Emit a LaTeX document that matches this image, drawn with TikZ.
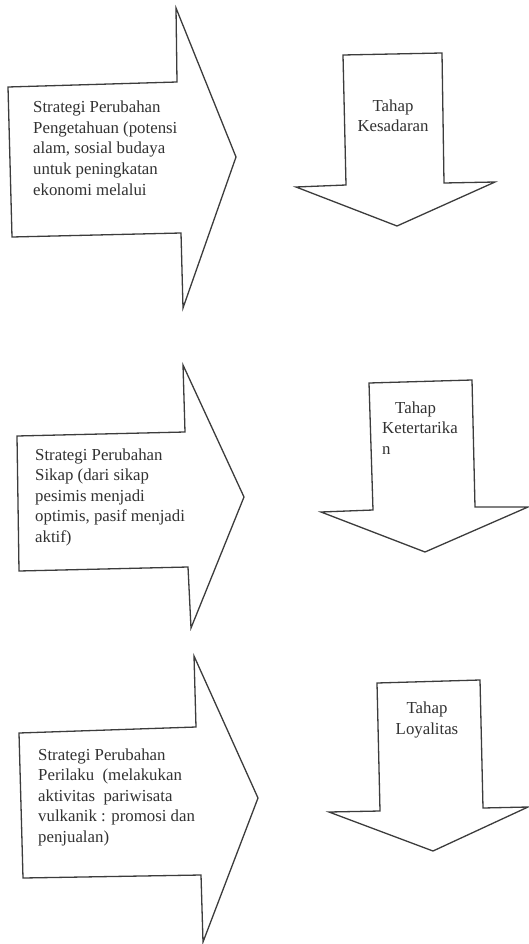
\documentclass[tikz,border=0pt]{standalone}
\usepackage{fontspec}
\setmainfont{Liberation Serif}
\usepackage{xcolor}
\usepackage{tikz}
\usetikzlibrary{positioning}
\definecolor{ink}{RGB}{60,60,60}
\definecolor{txt}{RGB}{50,50,50}

\tikzset{
    shapeline/.style={draw=ink, line width=1.3pt, line join=miter, fill=white},
    lefttext/.style={anchor=base west, align=left, inner sep=0pt, text=txt,
        font=\fontsize{16.8}{20.5}\selectfont},
    tahaptext/.style={anchor=base, align=center, inner sep=0pt, text=txt,
        font=\fontsize{16.8}{20.5}\selectfont}
}

\begin{document}
\begin{tikzpicture}[x=1pt, y=-1pt]
    \useasboundingbox (0,0) rectangle (529,944);

    % Right arrows (strategi)
    \draw[shapeline] (8,87) -- (177,82) -- (176,8) -- (236,157) -- (183,308) -- (181,233) -- (12,237) -- cycle;
    \draw[shapeline] (17,436) -- (185,432) -- (183,365) -- (244,497) -- (191,628) -- (188,567) -- (19,571) -- cycle;
    \draw[shapeline] (19,733) -- (196,727) -- (194,656) -- (258,798) -- (203,942) -- (201,875) -- (23,878) -- cycle;

    % Down arrows (tahap)
    \draw[shapeline] (343,55) -- (442,53) -- (444,183) -- (495,182) -- (397,226) -- (296,187) -- (346,185) -- cycle;
    \draw[shapeline] (369,383) -- (472,380) -- (475,507) -- (528,507) -- (425,552) -- (321,512) -- (373,510) -- cycle;
    \draw[shapeline] (377,683) -- (480,680) -- (483,808) -- (528,807) -- (433,851) -- (329,812) -- (380,811) -- cycle;

    % Strategi texts (placed at last baseline)
    \node[lefttext] (pengetahuan) at (33,195) {Strategi Perubahan\\Pengetahuan (potensi\\alam, sosial budaya\\untuk peningkatan\\ekonomi melalui};
    \node[lefttext] (sikap) at (35,542) {Strategi Perubahan\\Sikap (dari sikap\\pesimis menjadi\\optimis, pasif menjadi\\aktif)};
    \node[lefttext] (perilaku) at (38,842) {Strategi Perubahan\\Perilaku\ \ (melakukan\\aktivitas\ \ pariwisata\\vulkanik : promosi dan\\penjualan)};

    % Tahap texts
    \node[tahaptext] (kesadaran) at (393,132) {Tahap\\Kesadaran};
    \node[lefttext] (ketertarikan) at (382,454) {\hspace{13pt}Tahap\\Ketertarika\\n};
    \node[tahaptext] (loyalitas) at (427,734) {Tahap\\Loyalitas};
\end{tikzpicture}
\end{document}
